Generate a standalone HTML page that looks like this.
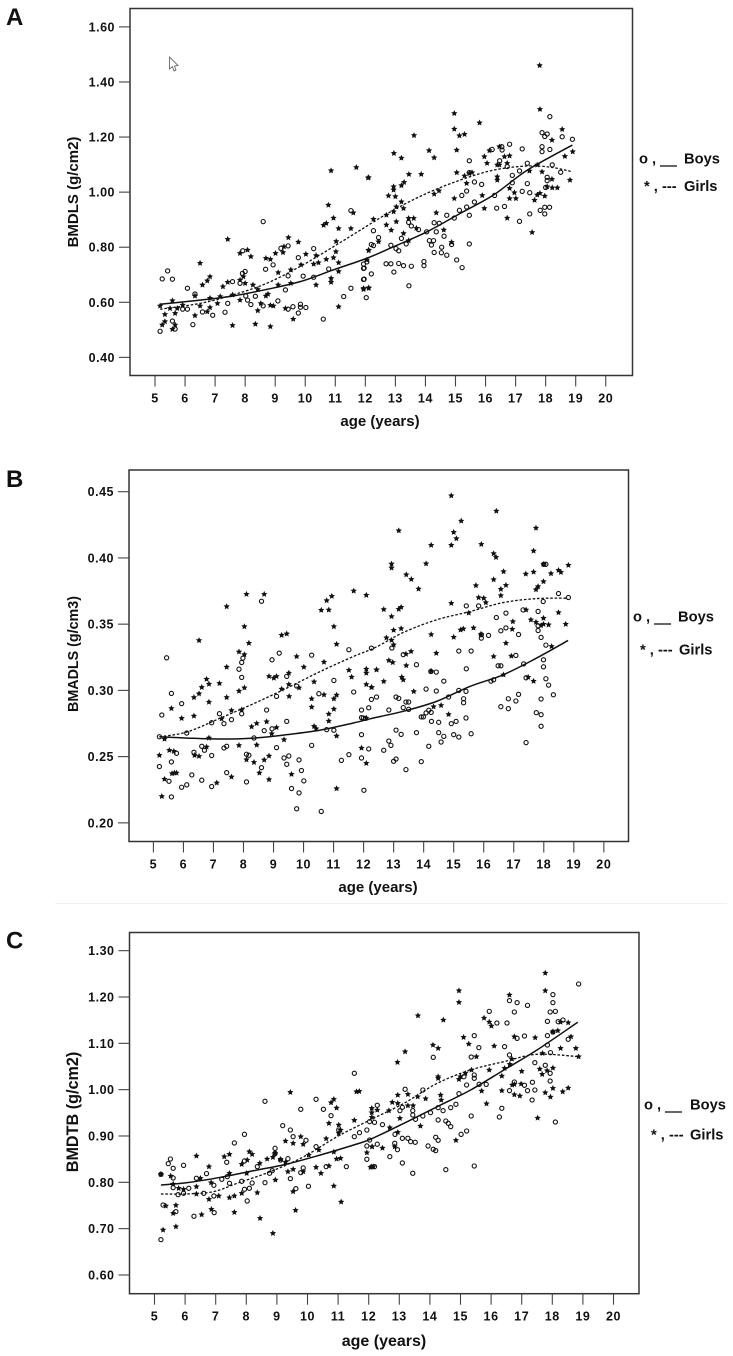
<!DOCTYPE html>
<html lang="en">
<head>
<meta charset="utf-8">
<title>Bone mineral density by age</title>
<style>
html,body{margin:0;padding:0;background:#fff;width:733px;height:1356px;overflow:hidden}
svg{display:block;filter:blur(0.3px)}
text{font-family:"Liberation Sans",Arial,sans-serif;font-weight:bold;fill:#111}
</style>
</head>
<body>
<svg id="root" width="733" height="1356" viewBox="0 0 733 1356" xmlns="http://www.w3.org/2000/svg">
<rect x="0" y="0" width="733" height="1356" fill="#fff"/>
<line x1="55" y1="903.5" x2="727" y2="903.5" stroke="#f1f1f1" stroke-width="1"/>
<text x="6" y="25" font-size="24">A</text>
<text x="6" y="487" font-size="24">B</text>
<text x="6" y="948.5" font-size="24">C</text>
<path d="M169.5 57 L169.5 69 L172.3 66.6 L174 71 L176 70 L174.4 66 L178 65.6 Z" fill="#fff" stroke="#555" stroke-width="0.8"/>
<g font-size="14.7">
<text x="639" y="163.5">o ,</text>
<line x1="660" y1="166" x2="677" y2="166" stroke="#333" stroke-width="1.4"/>
<text x="684" y="163.5">Boys</text>
<text x="644" y="191">* , ---</text>
<text x="684" y="191">Girls</text>
</g>
<g font-size="14.7">
<text x="633" y="621.5">o ,</text>
<line x1="654" y1="624" x2="671" y2="624" stroke="#333" stroke-width="1.4"/>
<text x="678" y="621.5">Boys</text>
<text x="640" y="654.5">* , ---</text>
<text x="679" y="654.5">Girls</text>
</g>
<g font-size="14.7">
<text x="644" y="1109.5">o ,</text>
<line x1="665" y1="1112" x2="682" y2="1112" stroke="#333" stroke-width="1.4"/>
<text x="690" y="1109.5">Boys</text>
<text x="651" y="1139.5">* , ---</text>
<text x="690" y="1139.5">Girls</text>
</g>
</svg>
<script>
var xTickLabels = [5,6,7,8,9,10,11,12,13,14,15,16,17,18,19,20];
var yTicksA = [0.40,0.60,0.80,1.00,1.20,1.40,1.60];
var yTicksB = [0.20,0.25,0.30,0.35,0.40,0.45];
var yTicksC = [0.60,0.70,0.80,0.90,1.00,1.10,1.20,1.30];

var boysA = [[5.17,.495],[5.24,.685],[5.42,.714],[5.58,.532],[5.58,.684],[5.67,.503],[6.08,.651],[5.92,.575],[6.08,.575],[6.33,.63],[6.26,.519],[6.58,.565],[6.92,.553],[7.33,.564],[7.42,.596],[7.58,.675],[7.83,.669],[7.91,.705],[8.0,.712],[7.92,.787],[8.02,.623],[8.08,.608],[8.19,.592],[8.34,.622],[8.6,.587],[8.68,.72],[8.93,.736],[9.09,.605],[9.19,.796],[9.43,.805],[9.43,.696],[9.34,.645],[9.43,.575],[9.59,.584],[9.77,.762],[9.77,.561],[9.84,.593],[9.84,.582],[10.02,.581],[9.93,.695],[10.28,.795],[10.6,.539],[10.28,.691],[10.78,.721],[11.28,.621],[11.52,.651],[11.96,.684],[11.96,.724],[12.03,.617],[8.6,.893],[11.52,.933],[11.94,.683],[12.2,.703],[11.94,.723],[11.94,.739],[12.05,.747],[13.45,.66],[12.95,.71],[12.69,.74],[12.85,.74],[13.11,.741],[13.27,.733],[13.53,.731],[13.95,.748],[13.95,.733],[15.22,.726],[15.04,.754],[14.71,.771],[14.53,.78],[14.29,.781],[14.54,.8],[14.2,.808],[14.13,.824],[14.27,.824],[14.62,.84],[14.87,.81],[15.46,.812],[12.27,.86],[12.2,.81],[12.27,.806],[12.44,.835],[12.85,.807],[13.11,.787],[13.02,.795],[13.2,.832],[13.36,.812],[13.44,.89],[13.53,.877],[13.77,.864],[14.04,.856],[14.29,.889],[14.46,.887],[14.36,.856],[14.71,.916],[14.96,.906],[15.13,.934],[15.37,.946],[15.46,.916],[15.63,.964],[15.21,.988],[15.37,1.004],[15.63,1.037],[15.87,1.028],[15.46,1.114],[15.46,1.071],[16.3,.988],[16.37,.942],[16.63,.948],[17.13,.894],[17.47,.921],[17.82,.934],[17.97,.945],[18.13,.945],[17.97,.921],[17.22,1.003],[17.47,.998],[17.39,1.031],[16.89,1.034],[18.0,1.017],[18.05,1.042],[18.05,1.054],[17.39,1.105],[16.89,1.061],[17.13,1.077],[16.72,1.093],[16.47,1.114],[16.55,1.153],[16.22,1.155],[16.8,1.174],[16.54,1.165],[17.22,1.157],[17.88,1.216],[17.97,1.202],[18.05,1.211],[18.14,1.274],[18.55,1.201],[18.89,1.192],[17.88,1.165],[17.88,1.147],[18.14,1.155],[18.22,1.099],[18.5,1.072]];
var girlsA = [[5.17,.587],[5.24,.518],[5.33,.53],[5.33,.556],[5.5,.578],[5.58,.606],[5.58,.502],[5.67,.518],[5.67,.56],[5.74,.578],[5.92,.59],[6.33,.552],[6.33,.623],[6.5,.587],[6.5,.742],[6.58,.663],[6.74,.678],[6.83,.693],[6.74,.566],[6.83,.581],[6.83,.615],[7.08,.596],[7.17,.621],[7.26,.657],[7.42,.673],[7.42,.829],[7.58,.627],[7.58,.516],[7.83,.608],[7.83,.778],[8.08,.79],[8.19,.766],[7.83,.681],[8.0,.669],[7.94,.693],[8.26,.663],[8.34,.521],[8.42,.647],[8.42,.57],[8.52,.596],[8.69,.76],[8.69,.623],[8.76,.63],[8.84,.756],[8.84,.512],[8.84,.589],[8.94,.587],[9.01,.778],[9.1,.708],[9.1,.663],[9.26,.781],[9.29,.802],[9.44,.835],[9.34,.578],[9.52,.718],[9.52,.669],[9.6,.539],[9.77,.819],[9.86,.736],[10.02,.775],[10.28,.739],[10.44,.744],[10.36,.77],[10.36,.663],[10.7,.756],[10.61,.88],[10.7,.887],[10.86,.687],[10.86,.673],[10.94,.762],[11.02,.784],[11.11,.744],[11.11,.712],[11.11,.584],[11.03,.821],[11.11,.868],[11.52,.868],[12.11,.788],[11.94,.651],[12.11,.651],[10.77,.953],[11.6,.925],[10.86,1.078],[11.7,1.09],[12.09,1.052],[10.94,.906],[11.94,.647],[12.11,.653],[12.11,.79],[12.05,.754],[12.44,.82],[13.44,.824],[13.27,.85],[12.86,.862],[12.7,.881],[13.03,.893],[13.44,.905],[13.61,.905],[13.7,.869],[14.36,.925],[14.61,.863],[14.87,.818],[12.27,.902],[12.7,.917],[12.94,.929],[13.27,.941],[13.03,.947],[13.2,.965],[12.77,.987],[13.0,.984],[12.94,1.008],[12.94,1.02],[13.2,1.024],[13.29,1.036],[13.45,1.065],[13.86,1.065],[12.11,1.053],[12.95,1.141],[13.2,1.124],[13.62,1.206],[14.12,1.151],[14.29,1.125],[14.29,.993],[14.45,1.005],[14.96,.977],[14.96,1.286],[14.96,1.229],[15.13,1.205],[15.3,1.21],[15.8,1.252],[15.04,1.153],[15.04,1.071],[15.3,1.059],[15.37,1.032],[15.46,1.068],[15.55,1.071],[15.89,.988],[15.96,.941],[15.96,1.129],[16.05,1.105],[16.13,1.151],[16.39,1.099],[16.46,1.099],[16.39,1.056],[16.39,1.044],[16.46,1.165],[16.63,1.129],[16.72,1.105],[16.8,1.132],[16.8,1.014],[16.8,.977],[17.01,.977],[16.96,.998],[16.72,.906],[17.46,1.077],[17.72,1.099],[17.88,1.074],[17.63,.971],[17.72,.99],[17.81,.996],[17.97,.986],[17.55,.854],[17.81,1.301],[17.8,1.46],[18.21,1.189],[18.55,1.228],[18.64,1.13],[18.9,1.147],[18.81,1.044],[18.21,1.047],[18.05,1.02],[18.22,1.016],[18.39,1.016]];
var boysFitA = [[5.17,.593],[6.5,.608],[7.6,.623],[8.72,.647],[9.83,.675],[10.94,.718],[12.05,.76],[12.94,.802],[14.05,.856],[15.16,.923],[16.27,.99],[17.39,1.08],[18.89,1.171]];
var girlsFitA = [[5.17,.575],[6.5,.596],[7.6,.627],[8.72,.669],[9.83,.73],[10.94,.802],[11.83,.862],[12.94,.935],[14.05,.996],[15.16,1.044],[16.27,1.08],[17.39,1.095],[18.2,1.09],[18.89,1.074]];

var boysB = [[5.2,.265],[5.28,.2814],[5.2,.2425],[5.52,.2314],[5.44,.3246],[5.6,.2977],[5.6,.246],[5.6,.2196],[5.77,.2525],[5.94,.29],[5.94,.2269],[6.11,.2287],[6.11,.2678],[6.28,.2362],[6.35,.2533],[6.61,.2578],[6.61,.2322],[6.7,.2548],[6.94,.2508],[6.94,.2274],[6.94,.2756],[7.2,.2824],[7.35,.2749],[7.35,.2565],[7.44,.2578],[7.44,.2379],[7.6,.2779],[7.85,.316],[7.94,.3098],[7.94,.3211],[7.98,.3244],[7.94,.2824],[8.1,.2518],[8.18,.251],[8.1,.2309],[8.35,.2641],[8.6,.3673],[8.6,.2417],[8.69,.2696],[8.77,.2852],[8.95,.271],[8.95,.3231],[9.19,.3281],[9.1,.2568],[9.1,.2955],[9.44,.3106],[9.44,.2766],[9.35,.249],[9.51,.2505],[9.44,.2442],[9.6,.2259],[9.77,.3033],[9.85,.2475],[9.93,.2395],[10.01,.2317],[9.85,.2226],[9.77,.2106],[10.27,.3266],[10.27,.2585],[10.51,.2975],[10.59,.2086],[10.77,.2704],[11.01,.3075],[11.01,.2699],[11.26,.2472],[11.51,.3307],[11.51,.2515],[11.67,.2988],[11.93,.2852],[11.93,.2794],[11.99,.2791],[12.06,.2789],[12.17,.2869],[12.26,.2932],[12.43,.295],[12.26,.3319],[11.93,.2666],[12.17,.2558],[11.93,.249],[12.01,.2246],[12.94,.332],[13.32,.327],[13.76,.3194],[14.24,.3143],[14.42,.3138],[14.67,.307],[14.08,.301],[14.42,.2995],[13.08,.295],[13.17,.294],[13.41,.2912],[13.5,.2912],[13.32,.287],[13.5,.2857],[12.84,.2852],[14.17,.285],[14.25,.2834],[14.08,.283],[13.99,.28],[13.92,.28],[14.26,.2766],[14.5,.2759],[14.92,.2749],[15.08,.2766],[15.41,.2792],[13.08,.27],[13.25,.2668],[13.76,.2681],[14.5,.2681],[14.67,.2653],[15.0,.2666],[15.17,.2648],[15.58,.2673],[14.58,.261],[14.17,.2578],[12.84,.2618],[12.91,.2585],[12.67,.2548],[13.0,.2465],[13.08,.2482],[13.92,.2462],[13.41,.2402],[14.83,.295],[15.17,.3],[15.41,.2993],[15.33,.2937],[15.33,.2907],[16.24,.307],[16.33,.308],[15.42,.3163],[15.17,.3297],[15.58,.3297],[15.92,.3395],[16.16,.3415],[15.92,.342],[15.42,.3638],[15.83,.3638],[16.42,.355],[16.57,.345],[16.74,.3472],[16.74,.3583],[17.16,.3422],[16.48,.3186],[16.57,.3186],[17.07,.3264],[17.33,.32],[17.41,.3095],[16.57,.2877],[16.82,.2937],[17.07,.292],[17.16,.297],[16.82,.2862],[17.41,.2606],[17.31,.3608],[17.81,.3596],[17.98,.3671],[17.81,.3488],[17.81,.3452],[17.91,.34],[18.07,.3342],[17.99,.3231],[17.99,.3178],[18.07,.3088],[18.16,.304],[18.32,.2967],[17.91,.2935],[17.75,.2832],[17.91,.2817],[17.91,.2729],[18.07,.3952],[18.0,.3952],[18.49,.3731],[18.82,.3701]];
var girlsB = [[5.37,.2633],[5.2,.251],[5.28,.22],[5.37,.233],[5.6,.2864],[5.53,.2548],[5.68,.254],[5.62,.2372],[5.7,.2377],[5.77,.2377],[5.94,.2789],[6.35,.2947],[6.35,.2807],[6.37,.251],[6.52,.2503],[6.52,.3377],[6.52,.2975],[6.61,.3023],[6.77,.3085],[6.85,.3048],[6.85,.2912],[6.77,.2573],[6.85,.2641],[7.11,.2302],[7.2,.3053],[7.27,.2786],[7.44,.3633],[7.44,.3176],[7.44,.2947],[7.6,.2849],[7.6,.2347],[7.85,.3291],[7.85,.2995],[7.94,.2854],[8.03,.3482],[8.03,.3271],[8.03,.302],[8.1,.3726],[8.18,.3357],[7.85,.2585],[8.1,.2477],[8.27,.2726],[8.44,.2751],[8.44,.2588],[8.35,.2457],[8.53,.2377],[8.69,.2475],[8.85,.2505],[8.69,.3726],[8.77,.2764],[8.85,.3106],[9.01,.3093],[9.1,.3106],[8.85,.2327],[8.94,.2673],[9.1,.272],[9.27,.3417],[9.44,.3427],[9.27,.301],[9.35,.2628],[9.51,.3131],[9.51,.3045],[9.52,.2955],[9.6,.2367],[9.77,.3256],[9.85,.302],[10.01,.3176],[10.27,.2937],[10.27,.2874],[10.35,.3065],[10.35,.2729],[10.42,.2711],[10.68,.3214],[10.68,.2967],[10.59,.3606],[10.84,.3608],[10.77,.3678],[10.94,.3711],[11.01,.3482],[11.1,.3349],[11.1,.2965],[11.01,.2937],[11.01,.2859],[10.84,.2822],[10.84,.2769],[11.1,.2656],[11.1,.2259],[11.67,.3751],[12.09,.3719],[11.51,.3153],[11.6,.3101],[12.09,.3161],[12.09,.3131],[12.43,.3156],[12.09,.3045],[12.26,.3023],[12.09,.2791],[11.93,.2565],[12.09,.245],[14.92,.447],[16.42,.4354],[15.25,.4279],[15.0,.4194],[15.09,.4146],[13.17,.4206],[14.25,.4096],[14.92,.4096],[15.92,.4103],[16.33,.4033],[16.41,.4005],[14.08,.3957],[12.93,.3955],[12.93,.3925],[13.42,.3874],[13.59,.3839],[13.83,.3766],[16.66,.3897],[16.33,.3837],[15.74,.3792],[16.74,.3794],[16.57,.3764],[16.57,.3716],[15.83,.3701],[16.0,.3696],[16.07,.3663],[14.92,.3658],[12.67,.3611],[12.93,.3558],[13.17,.3613],[13.25,.3628],[15.5,.3585],[13.0,.3455],[13.25,.3467],[12.76,.3397],[12.93,.3379],[13.0,.3344],[14.25,.3422],[15.0,.3402],[15.23,.3457],[15.32,.3465],[15.66,.3472],[15.91,.3425],[16.97,.352],[16.95,.3462],[16.74,.3357],[17.74,.4226],[17.66,.4053],[17.4,.3879],[17.66,.3894],[17.99,.3952],[18.24,.3882],[18.49,.3907],[18.57,.3892],[18.82,.3945],[17.99,.3822],[17.81,.3784],[17.74,.3761],[17.41,.3608],[18.49,.3588],[17.57,.3533],[17.74,.3515],[17.99,.3545],[17.99,.35],[18.16,.3495],[17.91,.349],[18.73,.35],[18.26,.3332],[13.58,.3294],[13.41,.3274],[14.42,.3281],[12.84,.3226],[12.97,.3211],[13.42,.3188],[12.43,.3156],[14.25,.3146],[13.27,.31],[13.32,.308],[12.67,.3068],[12.27,.3023],[13.67,.2992],[14.33,.2877],[14.58,.2887],[14.83,.2819],[16.33,.3256],[16.92,.3259],[16.66,.3118],[17.48,.31],[17.66,.307]];
var boysFitB = [[5.2,.265],[6.12,.264],[7.23,.2633],[8.34,.264],[9.45,.2666],[10.56,.27],[11.66,.2754],[12.4,.2795],[13.32,.2842],[14.43,.2917],[15.54,.303],[16.65,.3118],[17.76,.3244],[18.81,.3377]];
var girlsFitB = [[5.2,.265],[6.12,.2686],[7.23,.2791],[8.34,.29],[9.45,.3018],[10.56,.3143],[11.66,.3256],[12.4,.3325],[13.32,.3437],[14.43,.3533],[15.54,.3595],[16.65,.3663],[17.76,.3693],[18.81,.3696]];

var boysC = [[5.21,.6763],[5.28,.751],[5.21,.8173],[5.45,.8403],[5.52,.8504],[5.61,.8303],[5.61,.8094],[5.61,.7885],[5.7,.7367],[5.77,.7734],[5.95,.8367],[5.95,.7763],[6.12,.7871],[6.29,.7267],[6.37,.8087],[6.61,.7763],[6.7,.8188],[6.94,.7936],[6.95,.7346],[6.94,.7706],[7.2,.8065],[7.36,.8432],[7.45,.7979],[7.38,.8123],[7.61,.885],[7.85,.8022],[7.94,.9036],[7.94,.8461],[7.94,.785],[8.1,.7871],[8.03,.7598],[8.19,.7986],[8.36,.8339],[8.61,.9749],[8.61,.7993],[8.76,.8195],[8.85,.8252],[8.94,.8734],[8.94,.8626],[9.12,.8482],[9.19,.9223],[9.36,.851],[9.44,.913],[9.53,.8986],[9.44,.808],[9.62,.7864],[9.78,.9576],[9.78,.8209],[9.86,.831],[9.95,.8907],[10.03,.7914],[10.28,.9792],[10.28,.877],[10.52,.9576],[10.61,.8338],[10.77,.9439],[11.02,.913],[11.27,.8338],[11.53,1.0353],[11.53,.8986],[11.7,.9072],[11.94,.913],[11.94,.8785],[11.94,.8497],[12.19,.8338],[12.03,.8914],[12.03,.931],[12.19,.9295],[12.28,.9663],[12.28,.8823],[12.45,.9245],[12.86,.9036],[12.85,.8842],[12.94,.8705],[12.69,.8554],[13.1,.895],[13.28,.895],[13.37,.8878],[13.52,.8864],[13.1,.8418],[13.44,.8195],[13.02,.9547],[13.1,.9619],[13.19,1.0008],[13.44,.9454],[13.44,.9547],[13.53,.936],[13.77,.9993],[13.77,.9432],[14.02,.9504],[14.27,.9346],[14.43,.9547],[14.27,.9612],[14.11,1.0698],[14.52,.9324],[14.6,.9274],[14.68,.9202],[14.68,.9612],[14.85,.9684],[14.95,.9914],[15.02,.9036],[15.2,.9108],[14.52,.8274],[15.45,.8353],[13.94,.8785],[14.11,.8713],[14.19,.8684],[14.19,.8972],[14.27,.8907],[15.35,.9432],[15.11,1.028],[15.2,1.0101],[15.45,1.0317],[15.45,1.0245],[15.61,1.0115],[15.84,1.0115],[15.6,1.0907],[15.35,1.0705],[15.45,1.1166],[15.94,1.169],[16.19,1.1439],[16.52,1.1439],[16.44,1.0928],[16.6,1.0749],[16.6,1.1921],[16.85,1.1878],[17.19,1.182],[16.76,1.1677],[16.85,1.1108],[17.09,1.1158],[16.35,.9598],[16.27,.9411],[16.6,.9979],[16.76,1.0166],[17.09,1.0094],[17.19,.9979],[17.43,.9993],[17.35,1.016],[17.34,.9777],[17.43,1.0583],[17.77,1.0526],[17.93,1.0353],[17.93,1.0187],[18.1,.9302],[17.94,1.08],[17.84,1.0964],[17.84,1.1166],[17.84,1.1475],[18.02,1.2051],[18.02,1.1878],[17.93,1.1677],[18.1,1.169],[18.19,1.1468],[18.35,1.1504],[18.02,1.1245],[18.52,1.1087],[18.86,1.2281]];
var girlsC = [[5.21,.8173],[5.28,.6972],[5.37,.749],[5.53,.8137],[5.7,.7504],[5.61,.7331],[5.7,.7044],[5.61,.7964],[5.79,.7871],[5.95,.7849],[6.37,.8569],[6.37,.7907],[6.54,.7303],[6.37,.7749],[6.5,.8087],[6.78,.8339],[6.78,.7633],[6.85,.7993],[6.86,.7418],[7.1,.7706],[7.28,.8554],[7.45,.8605],[7.45,.767],[7.61,.7706],[7.61,.7353],[7.45,.8195],[7.85,.8389],[7.85,.7763],[8.03,.8482],[8.01,.8195],[8.1,.8662],[8.19,.8605],[8.36,.7777],[8.44,.8411],[8.45,.7224],[8.68,.8504],[8.87,.6899],[8.87,.854],[8.95,.8051],[8.94,.8626],[9.12,.8497],[9.28,.8892],[9.28,.8432],[9.44,.9943],[9.53,.8842],[9.53,.8281],[9.36,.8231],[9.61,.7396],[9.53,.78],[9.78,.8986],[9.86,.8821],[9.86,.8231],[10.04,.859],[10.28,.8324],[10.44,.8195],[10.37,.8698],[10.61,.8943],[10.7,.9274],[10.7,.8353],[10.77,.972],[10.86,.9792],[10.95,.9605],[10.86,.8655],[10.86,.7921],[10.95,.8504],[11.08,.8518],[11.02,.9238],[11.08,.913],[11.02,.9058],[11.1,.7576],[11.53,.9338],[11.6,.9957],[11.69,.9964],[11.94,.8641],[12.11,.877],[12.1,.9598],[12.1,.9504],[12.1,.9403],[12.1,.8338],[12.28,.9561],[13.61,1.1598],[14.95,1.2137],[14.95,1.1885],[14.44,1.1504],[12.94,1.059],[13.19,1.082],[14.1,1.0964],[14.27,1.0892],[15.1,1.113],[15.27,1.0986],[15.52,1.0713],[15.77,1.1547],[15.94,1.1461],[16.01,1.1375],[16.1,1.0943],[16.6,1.2044],[16.76,1.1144],[17.44,1.1123],[17.77,1.2518],[17.77,1.2137],[18.02,1.1252],[18.18,1.1274],[18.27,1.146],[18.52,1.1447],[18.61,1.1144],[18.27,1.0892],[18.77,1.0892],[18.86,1.0713],[17.68,1.0784],[17.67,1.0331],[17.59,1.0446],[17.83,1.041],[18.02,1.0468],[17.0,1.0396],[18.02,1.003],[18.34,.9957],[18.52,1.0036],[17.77,.9936],[17.94,.9842],[17.52,.9389],[16.35,.9979],[16.35,1.0295],[16.44,1.0461],[16.61,1.0547],[16.68,1.0662],[16.76,1.0115],[16.69,1.0101],[16.98,1.0123],[16.76,.9892],[16.94,.9864],[15.94,1.0425],[15.85,.9698],[15.69,.9972],[15.36,1.0425],[15.16,1.0353],[15.0,1.0281],[14.95,1.0223],[14.27,1.028],[14.27,1.0245],[14.35,.9885],[14.37,.9777],[13.6,.9849],[13.86,.9806],[12.95,.9885],[12.95,.9705],[13.28,.99],[12.77,.9727],[12.66,.9547],[13.28,.9655],[13.45,.9655],[13.02,.9381],[13.69,.9216],[12.69,.918],[12.95,.908],[12.11,.877],[12.45,.8741],[12.85,.877],[14.85,.8907],[12.06,.8324],[12.15,.8338]];
var boysFitC = [[5.21,.7943],[6.07,.7993],[7.16,.8108],[8.25,.8252],[9.34,.8396],[10.42,.859],[11.51,.8806],[12.06,.893],[13.15,.9274],[14.24,.9633],[15.33,.9993],[16.42,1.0425],[17.5,1.0856],[18.83,1.1454]];
var girlsFitC = [[5.21,.7749],[6.07,.7749],[6.94,.78],[7.7,.7979],[8.79,.8231],[9.88,.8554],[10.97,.8986],[12.06,.935],[13.15,.9705],[14.24,1.0137],[15.33,1.0425],[16.42,1.0605],[17.5,1.0763],[18.86,1.0713]];

var SVGNS = 'http://www.w3.org/2000/svg';
var root = document.getElementById('root');

function make(tag, parent) {
  var el = document.createElementNS(SVGNS, tag);
  parent.appendChild(el);
  return el;
}

function setAll(el, map) {
  for (var k in map) { el.setAttribute(k, map[k]); }
}

function smoothPath(pts) {
  var d = 'M' + pts[0][0].toFixed(2) + ' ' + pts[0][1].toFixed(2);
  for (var i = 0; i < pts.length - 1; i++) {
    var p0 = pts[Math.max(i - 1, 0)], p1 = pts[i], p2 = pts[i + 1], p3 = pts[Math.min(i + 2, pts.length - 1)];
    var c1x = p1[0] + (p2[0] - p0[0]) / 6, c1y = p1[1] + (p2[1] - p0[1]) / 6;
    var c2x = p2[0] - (p3[0] - p1[0]) / 6, c2y = p2[1] - (p3[1] - p1[1]) / 6;
    d += 'C' + c1x.toFixed(2) + ' ' + c1y.toFixed(2) + ' ' + c2x.toFixed(2) + ' ' + c2y.toFixed(2) + ' ' + p2[0].toFixed(2) + ' ' + p2[1].toFixed(2);
  }
  return d;
}

function starPath(cx, cy, r) {
  var d = '';
  for (var i = 0; i < 10; i++) {
    var rad = i % 2 ? r * 0.48 : r;
    var a = -Math.PI / 2 + i * Math.PI / 5;
    d += (i ? 'L' : 'M') + (cx + rad * Math.cos(a)).toFixed(2) + ' ' + (cy + rad * Math.sin(a)).toFixed(2);
  }
  return d + 'Z';
}

function drawPanel(p) {
  var g = make('g', root);
  
  

  function sx(v) { return p.x5 + (v - 5) * p.xPerYear; }
  function sy(v) { return p.yRef + (p.vRef - v) * p.yPerUnit; }

  var frame = make('rect', g);
  
  
  setAll(frame, {x: p.left, y: p.top, width: p.right - p.left, height: p.bottom - p.top, fill: 'none', stroke: '#333', 'stroke-width': 1.5});

  p.yTicks.forEach(function (v) {
    var t = make('line', g);
    
    
    setAll(t, {x1: p.left - 11, x2: p.left, y1: sy(v), y2: sy(v), stroke: '#444', 'stroke-width': 1.1});
    var l = make('text', g);
    
    
    setAll(l, {x: p.left - 15, y: sy(v) + 4.5, 'text-anchor': 'end', 'font-size': 12.5, 'letter-spacing': 0.5});
    l.textContent = v.toFixed(2);
  });

  xTickLabels.forEach(function (v) {
    var t = make('line', g);
    
    
    setAll(t, {x1: sx(v), x2: sx(v), y1: p.bottom, y2: p.bottom + 11, stroke: '#444', 'stroke-width': 1.1});
    var l = make('text', g);
    
    
    setAll(l, {x: sx(v), y: p.bottom + 27, 'text-anchor': 'middle', 'font-size': 12.5, 'letter-spacing': 0.6});
    l.textContent = v;
  });

  var xt = make('text', g);
  
  
  setAll(xt, {x: p.xTitleX, y: p.xTitleY, 'text-anchor': 'middle', 'font-size': p.xTitleSize});
  xt.textContent = 'age (years)';

  var yt = make('text', g);
  
  
  setAll(yt, {x: 0, y: 0, 'text-anchor': 'middle', 'font-size': p.yTitleSize, transform: 'translate(78 ' + p.yTitleY + ') rotate(-90)'});
  yt.textContent = p.yTitle;

  p.boys.forEach(function (d) {
    var c = make('circle', g);
    
    
    setAll(c, {cx: sx(d[0]), cy: sy(d[1]), r: 2.1, fill: 'none', stroke: '#111', 'stroke-width': 1.1});
  });

  p.girls.forEach(function (d) {
    var s = make('path', g);
    
    
    setAll(s, {d: starPath(sx(d[0]), sy(d[1]), 3.3), fill: '#111'});
  });

  var bl = make('path', g);
  
  
  setAll(bl, {d: smoothPath(p.boysFit.map(function (d) { return [sx(d[0]), sy(d[1])]; })), fill: 'none', stroke: '#111', 'stroke-width': 1.5});

  var gl = make('path', g);
  
  
  setAll(gl, {d: smoothPath(p.girlsFit.map(function (d) { return [sx(d[0]), sy(d[1])]; })), fill: 'none', stroke: '#111', 'stroke-width': 1.3, 'stroke-dasharray': '2.6 1.8'});
}

drawPanel({id: 'a', left: 130, right: 632.5, top: 8.5, bottom: 375.5, x5: 155, xPerYear: 30.05, yRef: 302.3, vRef: 0.6, yPerUnit: 275.4, yTicks: yTicksA, boys: boysA, girls: girlsA, boysFit: boysFitA, girlsFit: girlsFitA, xTitleX: 380, xTitleY: 426, xTitleSize: 15, yTitle: 'BMDLS (g/cm2)', yTitleY: 192, yTitleSize: 15});
drawPanel({id: 'b', left: 129, right: 628.5, top: 470, bottom: 841.5, x5: 153.4, xPerYear: 30.03, yRef: 491.7, vRef: 0.45, yPerUnit: 1324.6, yTicks: yTicksB, boys: boysB, girls: girlsB, boysFit: boysFitB, girlsFit: girlsFitB, xTitleX: 378, xTitleY: 892, xTitleSize: 15, yTitle: 'BMADLS (g/cm3)', yTitleY: 654, yTitleSize: 14.3});
drawPanel({id: 'c', left: 129.5, right: 639, top: 932.5, bottom: 1293.7, x5: 154.5, xPerYear: 30.6, yRef: 997, vRef: 1.2, yPerUnit: 463.3, yTicks: yTicksC, boys: boysC, girls: girlsC, boysFit: boysFitC, girlsFit: girlsFitC, xTitleX: 384, xTitleY: 1346, xTitleSize: 16, yTitle: 'BMDTB (g/cm2)', yTitleY: 1112, yTitleSize: 16.2});
</script>
</body>
</html>
